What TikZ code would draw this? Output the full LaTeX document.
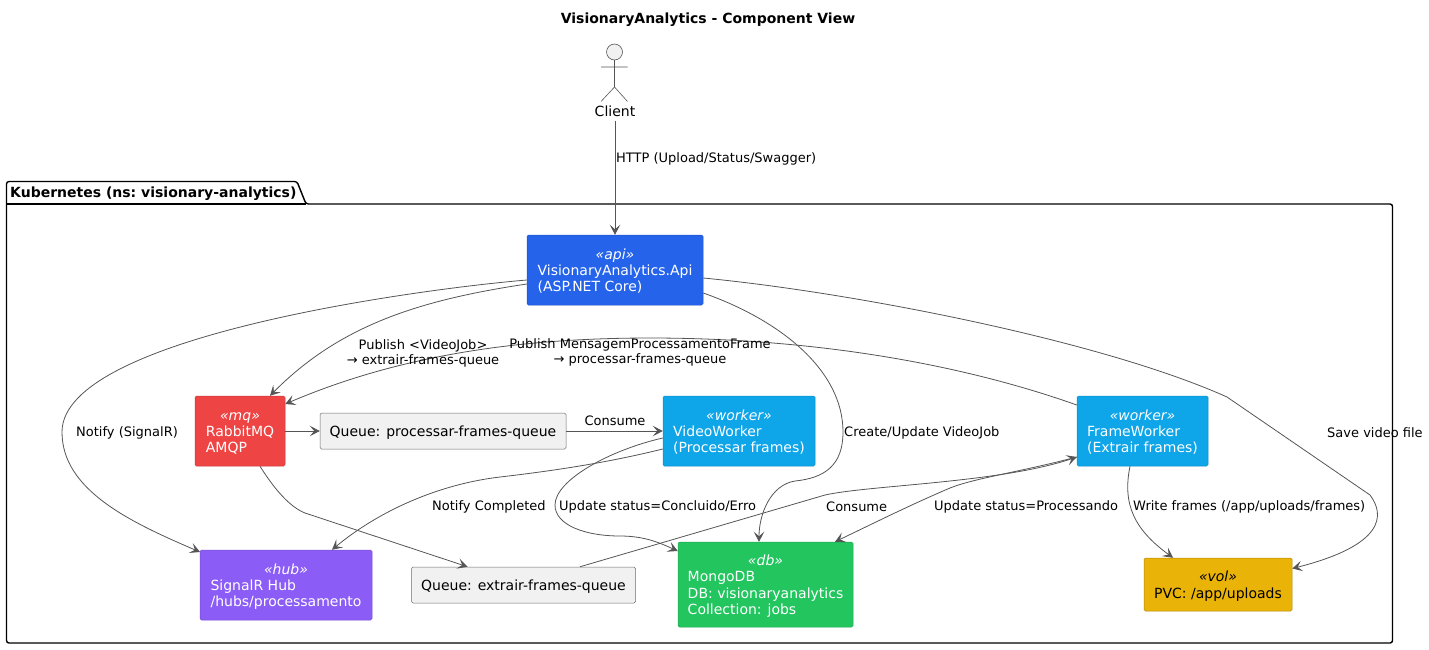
\documentclass[tikz,border=0pt]{standalone}
\usepackage{fontspec}
\setmainfont{DejaVu Sans}
\usetikzlibrary{arrows.meta}
\definecolor{edgecol}{HTML}{555555}
\definecolor{qfill}{HTML}{F1F1F1}
\definecolor{apicol}{HTML}{2563EB}
\definecolor{mqcol}{HTML}{EF4444}
\definecolor{hubcol}{HTML}{8B5CF6}
\definecolor{wkcol}{HTML}{0EA5E9}
\definecolor{dbcol}{HTML}{22C55E}
\definecolor{volcol}{HTML}{EAB308}
\newcommand{\stbox}[2]{\raisebox{-2.2pt}[\height][\depth]{\begin{tabular}{@{}l@{}}\multicolumn{1}{@{}c@{}}{\itshape «#1»}\\#2\end{tabular}}}
\newcommand{\qtext}[1]{\raisebox{-2pt}[\height][\depth]{#1}}
\tikzset{
  x=1pt,y=-1pt,
  every node/.style={font=\fontsize{14}{16.2}\selectfont,text=black},
  box/.style={rectangle,rounded corners=1.5pt,line width=.5pt,inner sep=0pt,text=white},
  queuebox/.style={rectangle,rounded corners=1.5pt,line width=.5pt,inner sep=0pt,draw=edgecol!85,fill=qfill,text=black},
  lbl/.style={inner sep=0pt,align=center,font=\fontsize{13}{15}\selectfont},
  conn/.style={draw=edgecol,line width=.8pt,-{Stealth[length=10pt,width=10.5pt,inset=4.5pt,color=edgecol]}},
}
\begin{document}
\begin{tikzpicture}
\useasboundingbox (0,0) rectangle (1429,649);
% package
\draw[line width=1.4pt,rounded corners=2.5pt] (6.5,204) -- (6.5,181.5) -- (297,181.5) -- (306,204) -- (1392.5,204) -- (1392.5,643) -- (6.5,643) -- cycle;
\draw[line width=1.4pt] (6.5,204) -- (306,204);
\node[inner sep=0pt,anchor=west,font=\bfseries\fontsize{14}{16}\selectfont] (pkg) at (10,194) {\frenchspacing Kubernetes (ns: visionary-analytics)};
\node[inner sep=0pt,font=\bfseries\fontsize{14}{16}\selectfont] (title) at (708,20) {VisionaryAnalytics - Component View};
% actor
\draw[edgecol,line width=.6pt,fill=qfill] (614.5,52) circle (8);
\draw[edgecol,line width=.6pt] (614.5,60) -- (614.5,87) (601,67) -- (627.5,67) (601,101.5) -- (614.5,87) -- (627.5,101.5);
\node[inner sep=0pt,text height=10.5pt,text depth=3pt] (client) at (615,113) {Client};
% boxes
\node[box,fill=apicol,draw=apicol!85!black,minimum width=176pt,minimum height=70pt] (api) at (615,270) {\stbox{api}{VisionaryAnalytics.Api\\(ASP.NET Core)}};
\node[box,fill=mqcol,draw=mqcol!85!black,minimum width=90pt,minimum height=70pt] (mq) at (240,431) {\stbox{mq}{RabbitMQ\\AMQP}};
\node[queuebox,minimum width=246pt,minimum height=36pt] (qp) at (443,431) {\qtext{Queue: processar-frames-queue}};
\node[box,fill=wkcol,draw=wkcol!85!black,minimum width=152pt,minimum height=70pt] (vw) at (739,431) {\stbox{worker}{VideoWorker\\(Processar frames)}};
\node[box,fill=wkcol,draw=wkcol!85!black,minimum width=131pt,minimum height=70pt] (fw) at (1142.5,431) {\stbox{worker}{FrameWorker\\(Extrair frames)}};
\node[box,fill=hubcol,draw=hubcol!85!black,minimum width=172pt,minimum height=70pt] (hub) at (286,585) {\stbox{hub}{SignalR Hub\\/hubs/processamento}};
\node[queuebox,minimum width=224pt,minimum height=36pt] (qe) at (523.5,585) {\qtext{Queue: extrair-frames-queue}};
\node[box,fill=dbcol,draw=dbcol!85!black,minimum width=175pt,minimum height=85pt] (db) at (765.5,584.5) {\stbox{db}{MongoDB\\DB: visionaryanalytics\\Collection: jobs}};
\node[box,fill=volcol,draw=volcol!75!black,text=black,minimum width=148pt,minimum height=53pt] (vol) at (1218,584.5) {\stbox{vol}{PVC: /app/uploads}};
% connectors
\draw[conn] ([yshift=-1pt]client.south) -- (api.north);
\draw[conn] ([yshift=-10pt]api.west) .. controls (430,288) and (62,335) .. (62,432) .. controls (62,490) and (130,522) .. ([xshift=-86pt,yshift=33pt]hub.center);
\draw[conn] ([yshift=-14pt]api.west) .. controls (420,300) and (340,325) .. ([xshift=30pt]mq.north);
\draw[conn] ([yshift=26pt]fw.west) .. controls (950,360) and (800,338) .. (650,338) .. controls (520,338) and (400,355) .. ([yshift=27pt]mq.east);
\draw[conn] (mq.east) -- (qp.west);
\draw[conn] (qp.east) -- (vw.west);
\draw[conn] ([xshift=20pt]mq.south) .. controls (275,490) and (290,507) .. (305,513) -- ([xshift=-56pt]qe.north);
\draw[conn] ([yshift=-18pt]vw.west) .. controls (610,462) and (560,470) .. (500,477) .. controls (440,484) and (380,510) .. ([xshift=46pt]hub.north);
\draw[conn] ([yshift=-7pt]vw.west) .. controls (610,450) and (555,480) .. (555,505) .. controls (555,525) and (585,536) .. (620,536) .. controls (645,536) and (660,543) .. ([yshift=33.5pt]db.west);
\draw[conn] ([yshift=-23pt]api.east) .. controls (780,320) and (843,370) .. (843,432) .. controls (843,465) and (825,478) .. (795,481) .. controls (770,485) and (759,515) .. ([xshift=-6.5pt]db.north);
\draw[conn] ([xshift=56.5pt]qe.north) -- (825,495) .. controls (870,485) and (1000,483) .. ([yshift=-26pt]fw.west);
\draw[conn] ([yshift=-26pt]fw.west) .. controls (1020,472) and (975,478) .. (950,488) .. controls (910,505) and (870,525) .. ([xshift=69.5pt]db.north);
\draw[conn] ([xshift=-12.5pt]fw.south) .. controls (1122,505) and (1135,530) .. ([xshift=-45pt]vol.north);
\draw[conn] ([yshift=-8pt]api.east) .. controls (850,292) and (1100,340) .. (1227,397) -- (1370,495) .. controls (1385,515) and (1385,545) .. ([yshift=16pt]vol.east);
% labels
\node[lbl,anchor=west] (l1) at (616,159) {HTTP (Upload/Status/Swagger)};
\node[lbl,anchor=west] (l2) at (76,433) {Notify (SignalR)};
\node[lbl] (l3) at (423,353) {Publish <VideoJob>\\→ extrair-frames-queue};
\node[lbl] (l4) at (640,352) {Publish MensagemProcessamentoFrame\\→ processar-frames-queue};
\node[lbl] (l5) at (615,421) {Consume};
\node[lbl,anchor=west] (l6) at (432,507) {Notify Completed};
\node[lbl,anchor=west] (l7) at (559,507) {Update status=Concluido/Erro};
\node[lbl,anchor=west] (l8) at (844,433) {Create/Update VideoJob};
\node[lbl,anchor=west] (l9) at (826,507) {Consume};
\node[lbl,anchor=west] (l10) at (934,507) {Update status=Processando};
\node[lbl,anchor=west] (l11) at (1133,507) {Write frames (/app/uploads/frames)};
\node[lbl,anchor=west] (l12) at (1327,433) {Save video file};
\end{tikzpicture}
\end{document}
